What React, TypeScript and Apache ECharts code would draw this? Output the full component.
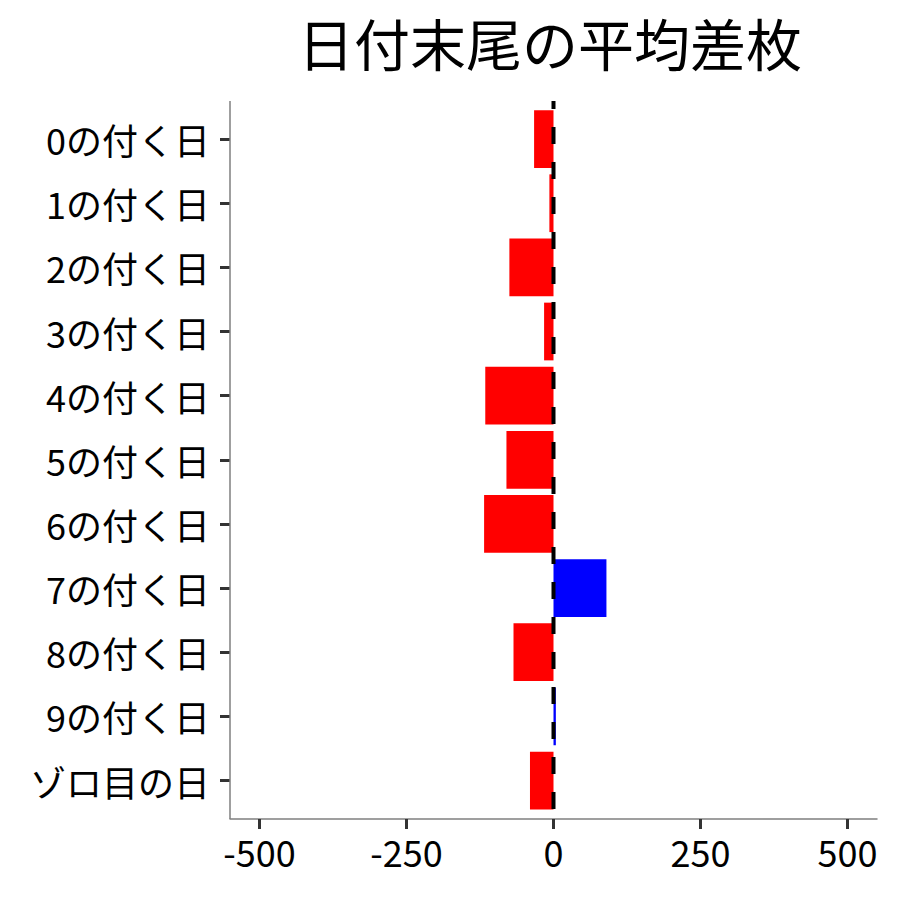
import React, { useEffect, useRef } from "react";
import * as echarts from "echarts";

const titleText = "日付末尾の平均差枚";
const categories = [
  "0の付く日",
  "1の付く日",
  "2の付く日",
  "3の付く日",
  "4の付く日",
  "5の付く日",
  "6の付く日",
  "7の付く日",
  "8の付く日",
  "9の付く日",
  "ゾロ目の日",
];
const values = [-33, -7, -75, -16, -116, -80, -118, 90, -68, 4, -40];
const xTicks = [-500, -250, 0, 250, 500];
const xMin = -550;
const xMax = 550;

const FONT = '"Noto Sans CJK JP", "Noto Sans", sans-serif';

export default function App() {
  const ref = useRef<HTMLDivElement>(null);
  useEffect(() => {
    if (!ref.current) return;
    const chart = echarts.init(ref.current, null, { renderer: "svg" });
    const data = values.map((v) => ({
      value: v,
      itemStyle: { color: v >= 0 ? "#0000FF" : "#FF0000" },
    }));
    const gridTop = 107;
    const gridBottom = 87.4;
    chart.setOption({
      animation: false,
      backgroundColor: "#ffffff",
      title: {
        text: titleText,
        left: 545,
        top: 8,
        textAlign: "center",
        textStyle: {
          fontFamily: FONT,
          fontSize: 56,
          fontWeight: "normal",
          color: "#000000",
        },
      },
      grid: { left: 230, right: 23, top: gridTop, bottom: gridBottom },
      xAxis: {
        type: "value",
        min: xMin,
        max: xMax,
        offset: 6.4,
        splitLine: { show: false },
        axisLine: { show: true, lineStyle: { color: "#7f7f7f", width: 1.5 } },
        axisTick: {
          show: true,
          length: 10,
          customValues: xTicks,
          lineStyle: { color: "#333333", width: 3 },
        },
        axisLabel: {
          customValues: xTicks,
          fontFamily: FONT,
          fontSize: 36,
          color: "#000000",
          margin: 14,
        },
      },
      yAxis: {
        type: "category",
        data: categories,
        inverse: true,
        axisLine: { show: false, onZero: false },
        axisTick: {
          show: true,
          length: 10,
          alignWithLabel: true,
          lineStyle: { color: "#333333", width: 3 },
        },
        axisLabel: {
          fontFamily: FONT,
          fontSize: 36,
          color: "#000000",
          margin: 20,
        },
      },
      series: [
        {
          type: "bar",
          data,
          barCategoryGap: "10%",
        },
      ],
    });
    const x0 = chart.convertToPixel({ xAxisIndex: 0 }, 0) as number;
    chart.setOption({
      graphic: [
        {
          type: "line",
          z: 50,
          shape: { x1: 230, y1: 101, x2: 230, y2: 819 },
          style: { stroke: "#7f7f7f", lineWidth: 1.5 },
        },
        {
          type: "line",
          z: 100,
          shape: { x1: x0, y1: 101, x2: x0, y2: 819 },
          style: {
            stroke: "#000000",
            lineWidth: 4,
            lineDash: [17, 18],
            lineDashOffset: 9,
          },
        },
      ],
    });
    return () => chart.dispose();
  }, []);
  return (
    <div
      ref={ref}
      style={{ position: "fixed", left: 0, top: 0, width: 900, height: 900 }}
    />
  );
}
